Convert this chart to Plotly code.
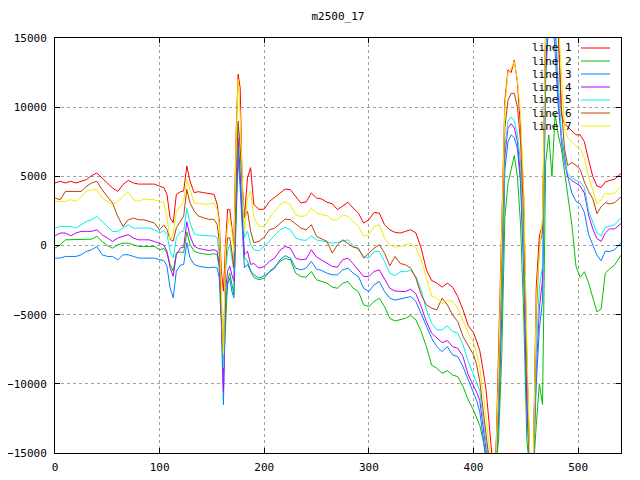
import plotly.graph_objects as go

title_text = "m2500_17"
names = ["line 1", "line 2", "line 3", "line 4", "line 5", "line 6", "line 7"]
colors = ["#ff0000", "#00c000", "#0080ff", "#c000ff", "#00eeee", "#c04000", "#eeee00"]

x_ticks = [0, 100, 200, 300, 400, 500]
y_ticks = [-15000, -10000, -5000, 0, 5000, 10000, 15000]

x_vals = (list(range(0, 101, 5))
          + [104, 107, 110, 113, 116, 120, 123, 126, 129, 133, 137, 142, 147, 152, 155, 157,
             159, 161, 163, 165, 167, 169, 171, 173, 175, 177, 179, 181, 184, 187, 190, 195]
          + list(range(200, 396, 5))
          + list(range(400, 491, 3))
          + [494, 498, 502, 506, 510, 514, 518, 522, 526, 530, 535, 541])

# line 1 (red)
line1 = [4520, 4640, 4520, 4640, 4520, 4640, 4760, 5050, 5240, 4880, 4520, 4150, 3910, 4400, 4710, 4520, 4440, 4440, 4440, 4440, 4280,
         4180, 3700, 2000, 1650, 3700, 3890, 3940, 5750, 4660, 3820, 3890, 3820, 3740, 3700, 2970, 1770, -1850, -3300, 80, 2610, 2610, 1520, 80, 7800, 12380, 11420, 4180, 2010, 4900, 5630, 2970, 2610,
         2630, 3190, 3500, 3790, 4080, 4030, 3550, 3070, 3140, 3790, 3430, 3360, 3120, 3020, 2590, 2830, 3120, 2710, 2340, 1620, 1860, 2390, 2340, 1500, 1140, 950, 900, 1020, 1140, 900, -190, -1760, -2530, -2720, -3010, -2720, -3010, -3690, -4650, -5800,
         -6300, -6900, -7600, -8900, -10400, -12900, -15500, -16500, -8000, 2000, 10500, 12700, 12500, 13400, 11800, 8500, 3500, -8500, -16500, -16500, -3000, 700, 1500, 16000, 17500, 18000, 17500, 15500, 9500, 8800, 8600,
         8300, 8000, 8000, 7500, 6200, 5000, 4300, 4200, 4600, 4700, 4800, 5200]

# line 2 (green)
line2 = [-190, 50, 410, 410, 410, 460, 460, 460, 660, 290, 0, -190, 50, 170, 170, 50, -70, -70, -70, -70, -310,
         -210, -530, -1370, -1850, -530, -460, -530, 990, 80, -410, -530, -600, -650, -600, -650, -1610, -4750, -9090, -6200, -2580, -1980, -2820, -3540, 2250, 7070, 4900, 2010, -890, -1130, -1850, -2300, -2480,
         -2360, -1880, -1560, -1150, -940, -1030, -2000, -2240, -2290, -1880, -2480, -2600, -2720, -3010, -3090, -2720, -2600, -3090, -3330, -4290, -4410, -4050, -3810, -4410, -5260, -5460, -5380, -5260, -5060, -5380, -6220, -7310, -8640, -8880, -9240, -9050, -9360, -9480, -10200, -11170,
         -11900, -12500, -13000, -14000, -15500, -16500, -16500, -16500, -14000, -8000, 2000, 4500, 5500, 6500, 5000, 1500, -5000, -14000, -16500, -16500, -13000, -10000, -11500, 6000, 8000, 5000, 9500, 8000, 7000, 5500, 3700,
         1500, -1500, -2300, -1900, -2700, -3700, -4800, -4600, -2000, -1700, -1400, -700]

# line 3 (blue)
line3 = [-910, -910, -790, -790, -790, -670, -430, -310, -70, -670, -790, -790, -1030, -670, -670, -790, -910, -910, -910, -910, -1030,
         -1080, -1490, -3060, -3780, -1850, -1420, -1370, 200, -890, -1370, -1490, -1560, -1610, -1560, -1610, -2340, -5710, -11510, -4270, -2820, -2340, -3300, -3780, 1520, 6350, 4180, 1520, -1610, -1370, -1850, -2100, -2360,
         -2190, -1880, -1640, -1030, -740, -910, -1640, -1760, -1640, -1150, -1710, -1810, -2000, -2120, -2120, -1760, -1640, -2000, -2240, -3090, -3330, -2840, -2600, -3330, -3810, -3950, -3850, -3760, -3690, -4050, -4900, -5740, -6710, -7310, -7670, -7310, -7910, -8030, -8760, -9720,
         -10700, -11200, -12000, -13800, -15500, -16500, -16500, -16500, -12500, -5000, 5500, 7500, 8000, 7800, 7000, 4500, -2000, -12000, -16500, -16500, -10000, -6000, -4000, 12000, 16500, 17000, 14000, 10000, 8000, 6500, 5000,
         3800, 3200, 3000, 2400, 800, 0, -700, -1100, -400, -450, -300, 200]

# line 4 (magenta)
line4 = [700, 900, 900, 700, 900, 1020, 1020, 1020, 1140, 780, 540, 290, 540, 660, 780, 540, 410, 410, 410, 290, 170,
         30, -410, -1610, -2220, -650, -170, -120, 1720, 680, -40, -210, -290, -360, -310, -410, -1370, -4750, -10540, -3300, -1850, -1490, -2100, -2580, 2970, 7800, 5390, 2490, -650, -410, -1370, -1300, -1640,
         -1520, -1150, -910, -360, -70, -190, -910, -1030, -990, -310, -840, -1030, -1280, -1520, -1560, -1030, -910, -1320, -1760, -2240, -2240, -1880, -1760, -2480, -3090, -3290, -3330, -3330, -3160, -3500, -4410, -5500, -6340, -6710, -7020, -6870, -7310, -7430, -8030, -9360,
         -10100, -10600, -11200, -13000, -15000, -16500, -16500, -16500, -12000, -4000, 6500, 8500, 8800, 8500, 7500, 5000, -1000, -11000, -16500, -16500, -9000, -4500, -2500, 13000, 17000, 17500, 16000, 11000, 7500, 6000, 5000,
         4700, 4500, 4300, 3800, 2200, 1200, 500, 300, 900, 1200, 1200, 1600]

# line 5 (cyan)
line5 = [1260, 1380, 1380, 1380, 1260, 1500, 1740, 1860, 2100, 1740, 1380, 1020, 1020, 1260, 1500, 1260, 1260, 1260, 1260, 1140, 900,
         1090, 800, -410, -890, 560, 990, 1040, 2680, 1650, 850, 750, 730, 680, 680, 560, -650, -4270, -8850, -1850, -410, 80, -890, -1850, 4180, 8760, 6590, 3460, 560, 1040, 80, -300, -400,
         -70, 340, 700, 1140, 1310, 1140, 540, 410, 370, 700, 410, 340, 290, 170, 220, 340, 410, -20, -310, -790, -910, -430, -430, -1150, -2000, -2180, -1900, -1880, -1810, -2240, -3210, -4650, -5620, -6100, -6100, -5810, -6220, -6340, -7190, -8390,
         -9300, -9900, -10500, -12500, -14500, -16000, -16500, -16500, -11000, -3000, 7000, 9000, 9300, 9000, 8000, 6000, 0, -10000, -16500, -16500, -8000, -3000, -1500, 14000, 17000, 17500, 16500, 12000, 8000, 6000, 5200,
         4900, 4700, 4600, 4200, 2500, 1700, 900, 700, 1300, 1400, 1500, 2000]

# line 6 (brown)
line6 = [3430, 3310, 3910, 3910, 3910, 3910, 4280, 4520, 4640, 4030, 3550, 3070, 2100, 1380, 1860, 1980, 1860, 1860, 1740, 1620, 1140,
         1480, 1160, 440, 320, 1280, 1770, 2130, 4060, 3090, 2490, 2130, 2010, 1890, 1890, 1520, 320, -4990, -7650, -1370, 560, 560, -410, -1610, 4180, 9000, 7070, 4180, 2010, 2490, 1040, 200, 300,
         610, 1140, 1260, 1620, 1910, 1860, 1570, 1260, 1140, 1500, 660, 490, 290, -550, 50, 410, 170, -120, -190, -910, -550, -190, 50, -550, -1470, -790, -1300, -1400, -1640, -2360, -3570, -4290, -4530, -4650, -3810, -4290, -5020, -5500, -6580, -7190,
         -7900, -8600, -9800, -11800, -13500, -15500, -16500, -16000, -10000, -1000, 8500, 10500, 11000, 11000, 10000, 7500, 2000, -8000, -16000, -16500, -5000, 0, 1000, 15500, 17500, 18000, 17000, 15500, 10000, 7000, 5800,
         6000, 5800, 5500, 4600, 3900, 3400, 2300, 2800, 3100, 3000, 3100, 3500]

# line 7 (yellow)
line7 = [3190, 3190, 3190, 3310, 3190, 3550, 3910, 4030, 4030, 3430, 3190, 2950, 3190, 3550, 3910, 3310, 3190, 3360, 3360, 3310, 3190,
         3090, 2010, 440, 800, 2490, 2850, 3210, 4780, 4060, 3090, 3020, 2970, 2970, 3090, 2610, 1520, -3060, -7890, -410, 1520, 2010, 1040, -410, 7320, 12020, 9490, 4900, 1040, 3460, 3940, 2010, 1380,
         1380, 1980, 2470, 2950, 3140, 2950, 2220, 2100, 2150, 2710, 2340, 2220, 2150, 1860, 1860, 2220, 2100, 1740, 1380, 660, 780, 1380, 1500, 540, 50, -120, -70, 50, 170, -190, -1030, -2360, -3640, -3810, -4170, -3980, -4050, -4530, -5500, -6340,
         -7000, -7800, -8800, -10500, -12500, -14500, -16000, -16500, -9000, 1000, 10000, 12500, 12800, 13300, 12000, 9500, 4000, -7000, -16000, -16500, -4000, -500, 2000, 16000, 17500, 18000, 17500, 16500, 12000, 8500, 7800,
         7500, 7200, 7000, 6300, 5000, 4000, 3000, 3300, 3800, 3700, 3800, 4300]

series = [line1, line2, line3, line4, line5, line6, line7]
for s in series:
    assert len(s) == len(x_vals), (len(s), len(x_vals))

FONT = "DejaVu Sans Mono"

fig = go.Figure()
for name, col, ys in zip(names, colors, series):
    fig.add_trace(go.Scatter(x=x_vals, y=ys, mode="lines", name=name,
                             line=dict(color=col, width=1), showlegend=False))

# The page body has an 8px margin, so the figure is drawn 8px right/down.
OFF = 8
W, H = 640 - OFF, 480 - OFF
# plot area in window pixels -> figure pixels
L, R, T, B = 55 - OFF, 621 - OFF, 38 - OFF, 453 - OFF

def px_to_paper_x(px):
    return (px - OFF - L) / (R - L)

def py_to_paper_y(py):
    return (B - (py - OFF)) / (B - T)

# gnuplot-style key: text right-aligned, sample line to its right
for i, (name, col) in enumerate(zip(names, colors)):
    py = 48 + 13 * i
    fig.add_annotation(x=px_to_paper_x(574), y=py_to_paper_y(py), xref="paper", yref="paper",
                       text=name, showarrow=False, xanchor="right", yanchor="middle",
                       font=dict(family=FONT, size=11, color="black"))
    fig.add_shape(type="line", xref="paper", yref="paper",
                  x0=px_to_paper_x(581), x1=px_to_paper_x(610),
                  y0=py_to_paper_y(py), y1=py_to_paper_y(py),
                  line=dict(color=col, width=1))

axis_common = dict(showline=True, linecolor="black", linewidth=1, mirror="ticks",
                   ticks="inside", ticklen=5, tickcolor="black",
                   showgrid=True, gridcolor="#a0a0a0", griddash="dot", gridwidth=1,
                   zeroline=False, automargin=False, tickformat="d",
                   tickfont=dict(family=FONT, size=11, color="black"))

fig.update_layout(
    width=W, height=H, autosize=False,
    paper_bgcolor="white", plot_bgcolor="white",
    margin=dict(l=L, r=W - R, t=T, b=H - B, pad=0),
    title=dict(text=title_text, x=0.5, xref="paper", xanchor="center",
               y=1 - (16 - OFF) / H, yref="container", yanchor="middle",
               font=dict(family=FONT, size=11, color="black")),
    xaxis=dict(range=[0, 541], tickvals=x_ticks, ticklabelstandoff=4, **axis_common),
    yaxis=dict(range=[-15000, 15000], tickvals=y_ticks, ticklabelstandoff=5, **axis_common),
)

fig.write_html("out.html")
